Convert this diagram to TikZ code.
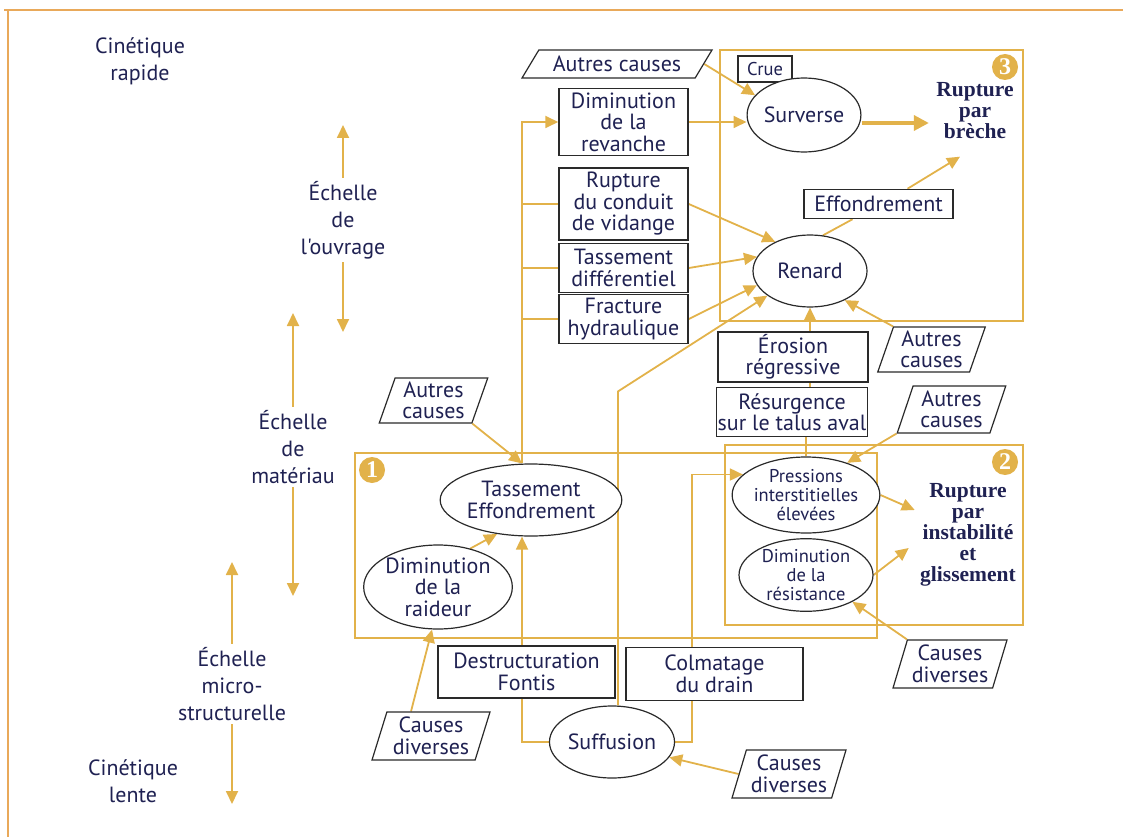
\documentclass[tikz,border=0pt]{standalone}
\usepackage{fontspec}
\setmainfont{PT Sans}[Ligatures=TeXOff]
\newfontfamily\ruptfont{Liberation Serif}
\usetikzlibrary{shapes.geometric,arrows.meta,calc}
\pgfdeclarelayer{bg}
\pgfsetlayers{bg,main}
\definecolor{txt}{HTML}{1F2152}
\definecolor{gold}{HTML}{E2B24A}
\definecolor{frame}{HTML}{E9A95A}
\definecolor{boxc}{HTML}{2A2A2A}
\tikzset{
  every node/.style={text=txt, align=center, font=\fontsize{22}{21.5}\selectfont},
  smallf/.style={font=\fontsize{18.5}{19}\selectfont},
  lbl/.style={font=\fontsize{22}{27}\selectfont},
  bold/.style={font=\fontsize{21.5}{21}\selectfont\ruptfont\bfseries},
  box/.style={rectangle, draw=boxc, line width=1.5pt, fill=white, inner sep=0pt},
  ell/.style={ellipse, draw=boxc, line width=1.2pt, fill=white, inner sep=0pt},
  para/.style={trapezium, trapezium left angle=71, trapezium right angle=109,
    trapezium stretches=true, draw=boxc, line width=1.2pt, fill=white, inner sep=0pt},
  ln/.style={draw=gold, line width=1.8pt},
  arr/.style={draw=gold, line width=1.8pt, -{Triangle[length=13pt,width=12pt]}},
  bigarr/.style={draw=gold, line width=3.5pt, -{Triangle[length=15pt,width=15pt]}},
  region/.style={draw=gold, line width=1.6pt},
  num/.style={circle, fill=gold, inner sep=0pt, minimum size=26pt, text=white,
    font=\fontsize{24}{24}\selectfont\ruptfont\bfseries}
}
\begin{document}
\begin{tikzpicture}[x=1pt,y=-1pt]
\useasboundingbox (0,0) rectangle (1123,837);
% outer frame
\draw[frame, line width=1.8pt] (4,10) -- (1123,10);
\draw[frame, line width=1.8pt] (8,10) -- (8,837);

% left scale labels
\node[lbl] (ck) at (140,61) {Cinétique\\rapide};
\node[lbl] (cl) at (133,781) {Cinétique\\lente};
\node[lbl] (L1) at (343,220) {Échelle\\de\\l'ouvrage};
\node[lbl] (L2) at (293,447) {Échelle\\de\\matériau};
\node[lbl] (L3) at (232,684) {Échelle\\micro-\\structurelle};
\coordinate (t1u) at (343,125); \coordinate (t1d) at (343,332);
\coordinate (t2u) at (293,313); \coordinate (t2d) at (293,596);
\coordinate (t3u) at (232,562); \coordinate (t3d) at (232,804);

\node[num] (n3) at (1005,67) {3};
\node[num] (n2) at (1005,462) {2};
\node[num] (n1) at (372,470) {1};

% nodes
\node[para, trapezium left angle=49, trapezium right angle=131, minimum width=190pt, minimum height=28pt] (AC1) at (617,64) {Autres causes};
\node[box, minimum width=54pt, minimum height=26pt, smallf] (CR) at (765,69) {Crue};
\node[ell, minimum width=112pt, minimum height=74pt] (SV) at (804,115) {Surverse};
\node[bold] (RB) at (975,111) {Rupture\\par\\brèche};
\node[box, minimum width=129pt, minimum height=67pt] (DR) at (623.5,122) {Diminution\\de la\\revanche};
\node[box, minimum width=129pt, minimum height=72pt] (RC) at (623.5,204) {Rupture\\du conduit\\de vidange};
\node[box, minimum width=129pt, minimum height=49pt] (TD) at (623.5,268) {Tassement\\différentiel};
\node[box, minimum width=129pt, minimum height=49pt] (FH) at (623.5,319) {Fracture\\hydraulique};
\node[ell, minimum width=114pt, minimum height=72pt] (RE) at (810,271) {Renard};
\node[box, minimum width=149pt, minimum height=29pt] (EF) at (878.5,204) {Effondrement};
\node[box, minimum width=150pt, minimum height=50pt] (ER) at (793,357) {Érosion\\régressive};
\node[box, minimum width=151pt, minimum height=49pt] (RS) at (792,412) {Résurgence\\sur le talus aval};
\node[para, minimum width=108pt, minimum height=45pt] (AC3) at (931.5,349.5) {Autres\\causes};
\node[para, minimum width=109pt, minimum height=47pt] (AC4) at (951.5,409.5) {Autres\\causes};
\node[para, minimum width=109pt, minimum height=45pt] (AC2) at (433.5,400.5) {Autres\\causes};
\node[ell, minimum width=152pt, minimum height=72pt] (TE) at (531,500) {Tassement\\Effondrement};
\node[ell, minimum width=143pt, minimum height=84pt] (DRa) at (438,587) {Diminution\\de la\\raideur};
\node[ell, minimum width=134pt, minimum height=76pt, smallf] (PR) at (806,495) {Pressions\\interstitielles\\élevées};
\node[ell, minimum width=134pt, minimum height=70pt, smallf] (DRS) at (806,575) {Diminution\\de la\\résistance};
\node[bold] (RI) at (968,535) {Rupture\\par\\instabilité\\et\\glissement};
\node[para, minimum width=114pt, minimum height=48pt] (CD2) at (950,664) {Causes\\diverses};
\node[para, minimum width=118pt, minimum height=48pt] (CD1) at (431,736) {Causes\\diverses};
\node[para, minimum width=114pt, minimum height=48pt] (CD3) at (789,774) {Causes\\diverses};
\node[box, minimum width=177pt, minimum height=52pt] (DF) at (526.5,672) {Destructuration\\Fontis};
\node[box, minimum width=177pt, minimum height=53pt] (CM) at (714.5,674) {Colmatage\\du drain};
\node[ell, minimum width=110pt, minimum height=72pt] (SU) at (612,742) {Suffusion};

\coordinate (sp) at ([xshift=-9pt]TE.north);
\coordinate (spb) at ([xshift=-9pt]TE.south);
\coordinate (bend) at ([xshift=6pt,yshift=314pt]SU.north);

\begin{pgfonlayer}{bg}
% regions
\draw[region] (720,50) rectangle (1023,321);
\draw[region] (725,445) rectangle (1023,625);
\draw[region] (355,453) rectangle (877,638);
% scale arrows
\draw[arr] (L1.north) -- (t1u);
\draw[arr] (L1.south) -- (t1d);
\draw[arr] (L2.north) -- (t2u);
\draw[arr] (L2.south) -- (t2d);
\draw[arr] (L3.north) -- (t3u);
\draw[arr] (L3.south) -- (t3d);
% spine from Tassement Effondrement
\draw[arr] (sp) |- (DR.west);
\draw[ln] (RC.west) -- (RC.west -| sp);
\draw[ln] (TD.west) -- (TD.west -| sp);
\draw[ln] (FH.west) -- (FH.west -| sp);
\draw[arr] (AC2.bottom right corner) -- (sp);
% top area
\draw[arr] (AC1.east) -- (SV.158);
\draw[arr] (DR.east) -- (DR.east -| SV.west);
\draw[bigarr] ($(SV.east)+(0,8)$) -- ($(SV.east -| RB.west)+(-4,8)$);
\draw[ln] (RE.70) -- ([xshift=-26pt]EF.south);
\draw[arr] ([xshift=29pt]EF.north) -- ($(RB.south)+(-15,14)$);
\draw[arr] (RC.east) -- (RE.140);
\draw[arr] (TD.east) -- (RE.165);
\draw[arr] (FH.east) -- (RE.195);
\draw[arr] ([xshift=6pt]SU.north) -- (bend) -- (RE.210);
\draw[arr] (ER.north -| RE.south) -- (RE.south);
\draw[ln] (RS.north -| RE.south) -- (ER.south -| RE.south);
\draw[ln] (PR.north) -- (PR.north |- RS.south);
\draw[arr] (AC3.top left corner) -- (RE.320);
% region 2
\draw[arr] (AC4.bottom left corner) -- (PR.38);
\draw[arr] (PR.east) -- ($(RI.west)+(-2,-25)$);
\draw[arr] (DRS.east) -- ($(RI.west)+(-8,13)$);
\draw[arr] (CD2.top left corner) -- (DRS.330);
% region 1 and below
\draw[arr] ([xshift=-20pt]CD1.north) -- ([xshift=-6pt]DRa.south);
\draw[arr] (DRa.50) -- (TE.225);
\draw[arr] (SU.west) -| (spb);
\draw[arr] (SU.east) -| ([xshift=-51pt]PR.162) -- (PR.162);
\draw[arr] (CD3.west) -- (SU.345);
\end{pgfonlayer}
\end{tikzpicture}
\end{document}
